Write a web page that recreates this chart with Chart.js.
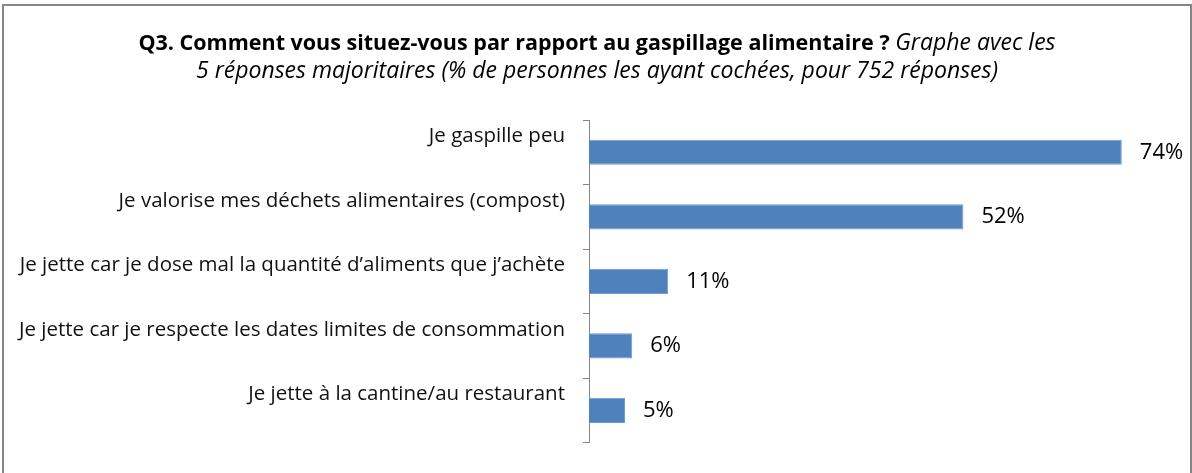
<!DOCTYPE html>
<html lang="fr">
<head>
<meta charset="UTF-8">
<title>Q3 - gaspillage alimentaire</title>
<script src="https://cdn.jsdelivr.net/npm/chart.js"></script>
<style>
    html, body {
        margin: 0;
        padding: 0;
        background: #fff;
    }
    #wrap {
        position: relative;
        width: 1192px;
        height: 473px;
    }
</style>
</head>
<body>
<div id="wrap"><canvas id="chart" width="1192" height="473"></canvas></div>
<script>
    // donnees
    const categories = [
        'Je gaspille peu',
        'Je valorise mes déchets alimentaires (compost)',
        'Je jette car je dose mal la quantité d’aliments que j’achète',
        'Je jette car je respecte les dates limites de consommation',
        'Je jette à la cantine/au restaurant'
    ];
    const values = [74, 52, 11, 6, 5];
    const xMax = 80;

    const titleBold = 'Q3. Comment vous situez-vous par rapport au gaspillage alimentaire ?';
    const titleItalic = 'Graphe avec les';
    const titleLine2 = '5 réponses majoritaires (% de personnes les ayant cochées, pour 752 réponses)';

    const FONT = '"Open Sans", Lato, sans-serif';
    const GRAY = '#868686';

    // cadre gris autour du graphique
    const framePlugin = {
        id: 'frame',
        beforeDraw(chart) {
            const ctx = chart.ctx;
            ctx.save();
            ctx.fillStyle = '#fff';
            ctx.fillRect(0, 0, chart.width, chart.height);
            ctx.strokeStyle = GRAY;
            ctx.lineWidth = 2;
            ctx.strokeRect(3, 5, 1188, 500);
            ctx.restore();
        }
    };

    // titre en gras + italique sur la meme ligne
    const titlePlugin = {
        id: 'mixedTitle',
        afterDraw(chart) {
            const ctx = chart.ctx;
            const cx = 597;
            ctx.save();
            ctx.fillStyle = '#000';
            ctx.textBaseline = 'alphabetic';
            ctx.textAlign = 'left';
            const boldFont = 'bold 21.5px ' + FONT;
            const italFont = 'italic 23px ' + FONT;
            ctx.font = boldFont;
            const wb = ctx.measureText(titleBold + ' ').width;
            ctx.font = italFont;
            const wi = ctx.measureText(titleItalic).width;
            let x = cx - (wb + wi) / 2;
            ctx.font = boldFont;
            ctx.fillText(titleBold + ' ', x, 50);
            ctx.font = italFont;
            ctx.fillText(titleItalic, x + wb, 50);
            ctx.textAlign = 'center';
            ctx.fillText(titleLine2, cx, 78);
            ctx.restore();
        }
    };

    // valeurs en % au bout des barres
    const valuePlugin = {
        id: 'barValues',
        afterDatasetsDraw(chart) {
            const ctx = chart.ctx;
            const meta = chart.getDatasetMeta(0);
            ctx.save();
            ctx.font = '22px ' + FONT;
            ctx.fillStyle = '#000';
            ctx.textAlign = 'left';
            ctx.textBaseline = 'middle';
            meta.data.forEach((bar, i) => {
                ctx.fillText(values[i] + '%', bar.x + 18, bar.y);
            });
            ctx.restore();
        }
    };

    new Chart(document.getElementById('chart'), {
        type: 'bar',
        data: {
            labels: categories,
            datasets: [{
                data: values,
                backgroundColor: '#4f81bd',
                borderColor: '#6d9bd0',
                borderWidth: 1,
                barPercentage: 0.39,
                categoryPercentage: 1
            }]
        },
        options: {
            indexAxis: 'y',
            responsive: false,
            animation: false,
            layout: {
                padding: { top: 120, right: 27, bottom: 26, left: 0 }
            },
            plugins: {
                legend: { display: false },
                title: { display: false },
                tooltip: { enabled: false }
            },
            scales: {
                x: {
                    display: false,
                    min: 0,
                    max: xMax
                },
                y: {
                    afterFit(scale) {
                        scale.width = 589;
                    },
                    grid: {
                        offset: true,
                        drawOnChartArea: false,
                        drawTicks: true,
                        tickLength: 6,
                        color: GRAY
                    },
                    border: {
                        display: true,
                        color: GRAY,
                        width: 1
                    },
                    ticks: {
                        autoSkip: false,
                        padding: 18,
                        labelOffset: -16,
                        color: '#111',
                        font: { family: FONT, size: 20.5 }
                    }
                }
            }
        },
        plugins: [framePlugin, titlePlugin, valuePlugin]
    });
</script>
</body>
</html>
